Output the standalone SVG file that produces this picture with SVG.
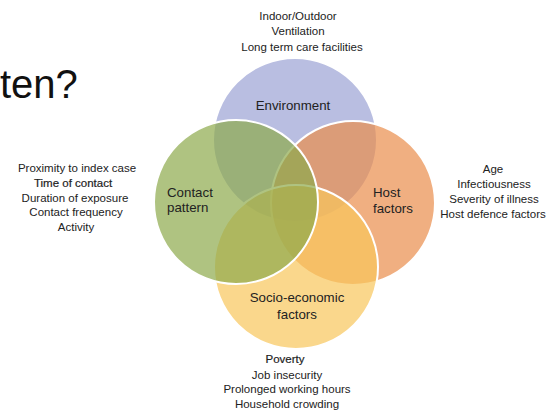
<svg xmlns="http://www.w3.org/2000/svg" width="547" height="417" viewBox="0 0 547 417">
<style>
.c{stroke:#ffffff;stroke-width:2;fill-opacity:0.7}
.t{font-family:"Liberation Sans",Arial,sans-serif;font-size:11.5px;fill:#222;text-anchor:middle}
.l{font-family:"Liberation Sans",Arial,sans-serif;font-size:13.3px;fill:#222}
.b{stroke:#222;stroke-width:0.2}
</style>
<rect width="547" height="417" fill="#ffffff"/>
<text x="0" y="98" font-family="Liberation Sans, Arial, sans-serif" font-size="40" fill="#111">ten?</text>
<g id="environment">
<circle class="c" cx="295" cy="140" r="82" fill="#9ba2d4"/>
<text class="l" x="293" y="110" text-anchor="middle">Environment</text>
</g>
<g id="host">
<circle class="c" cx="353" cy="203" r="82" fill="#ea8d4c"/>
<text class="l" x="373" y="197">Host</text>
<text class="l" x="373" y="213">factors</text>
</g>
<g id="socio">
<circle class="c" cx="296" cy="267" r="82" fill="#f8c65b"/>
<text class="l" x="297" y="302" text-anchor="middle">Socio-economic</text>
<text class="l" x="297" y="319" text-anchor="middle">factors</text>
</g>
<g id="contact">
<circle class="c" cx="236" cy="202" r="82" fill="#8da94c"/>
<text class="l" x="167" y="197">Contact</text>
<text class="l" x="167" y="212">pattern</text>
</g>
<g id="environment-factors">
<text class="t" x="298" y="19.5">Indoor/Outdoor</text>
<text class="t" x="298" y="35">Ventilation</text>
<text class="t" x="302" y="50.5">Long term care facilities</text>
</g>
<g id="contact-factors">
<text class="t" x="77" y="172">Proximity to index case</text>
<text class="t b" x="73" y="187">Time of contact</text>
<text class="t" x="75" y="202">Duration of exposure</text>
<text class="t" x="76" y="216">Contact frequency</text>
<text class="t" x="76" y="231">Activity</text>
</g>
<g id="host-factors">
<text class="t" x="493" y="173">Age</text>
<text class="t" x="494" y="188">Infectiousness</text>
<text class="t" x="494" y="203">Severity of illness</text>
<text class="t" x="493" y="218">Host defence factors</text>
</g>
<g id="socio-factors">
<text class="t b" x="285" y="363">Poverty</text>
<text class="t" x="287" y="379">Job insecurity</text>
<text class="t" x="287" y="393">Prolonged working hours</text>
<text class="t" x="287" y="408">Household crowding</text>
</g>
</svg>
